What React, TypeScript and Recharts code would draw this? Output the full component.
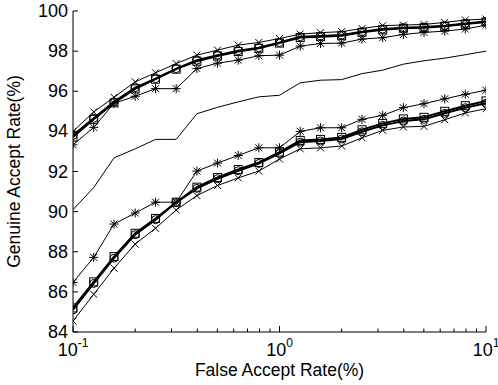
import { LineChart, Line, XAxis, YAxis } from "recharts";

// false accept rate (%) sample points, 0.1 decade apart
const far = [
  0.1, 0.126, 0.158, 0.2, 0.251, 0.316, 0.398, 0.501, 0.631, 0.794, 1, 1.26,
  1.58, 2, 2.51, 3.16, 3.98, 5.01, 6.31, 7.94, 10,
];

// upper group
const upperCross = [
  94.0, 94.97, 95.7, 96.47, 96.92, 97.38, 97.8, 98.05, 98.3, 98.43, 98.63,
  98.85, 98.92, 98.97, 99.13, 99.27, 99.3, 99.33, 99.43, 99.55, 99.6,
];
const upperCircle = [
  93.8, 94.65, 95.47, 96.18, 96.63, 97.13, 97.55, 97.8, 98.02, 98.17, 98.43,
  98.72, 98.75, 98.8, 98.97, 99.1, 99.17, 99.2, 99.27, 99.38, 99.48,
];
const upperSquare = [
  93.72, 94.6, 95.42, 96.12, 96.6, 97.1, 97.5, 97.76, 97.98, 98.14, 98.4,
  98.68, 98.72, 98.77, 98.94, 99.06, 99.14, 99.17, 99.24, 99.35, 99.45,
];
const upperStar = [
  93.33, 94.2, 95.4, 95.75, 96.13, 96.13, 97.13, 97.4, 97.55, 97.77, 97.8,
  98.25, 98.38, 98.4, 98.6, 98.67, 98.83, 98.93, 99.0, 99.1, 99.3,
];

// plain line in the middle
const plain = [
  90.1, 91.2, 92.68, 93.13, 93.6, 93.6, 94.88, 95.2, 95.47, 95.72, 95.8,
  96.42, 96.55, 96.58, 96.88, 97.05, 97.35, 97.52, 97.65, 97.82, 98.0,
];

// lower group
const lowerStar = [
  86.47, 87.72, 89.38, 89.93, 90.47, 90.47, 92.02, 92.42, 92.8, 93.18, 93.18,
  94.0, 94.18, 94.18, 94.6, 94.8, 95.18, 95.38, 95.62, 95.85, 96.05,
];
const lowerSquare = [
  85.2, 86.5, 87.76, 88.92, 89.66, 90.47, 91.22, 91.7, 92.1, 92.45, 92.97,
  93.55, 93.6, 93.7, 94.08, 94.4, 94.62, 94.7, 95.0, 95.28, 95.52,
];
const lowerCircle = [
  85.1, 86.42, 87.68, 88.85, 89.6, 90.45, 91.16, 91.64, 92.04, 92.4, 92.9,
  93.46, 93.52, 93.62, 93.98, 94.3, 94.52, 94.6, 94.9, 95.18, 95.4,
];
const lowerCross = [
  84.55, 85.88, 87.18, 88.38, 89.17, 90.08, 90.8, 91.3, 91.68, 92.02, 92.62,
  93.13, 93.18, 93.27, 93.68, 94.05, 94.22, 94.25, 94.58, 94.92, 95.13,
];

const xTicks = [
  0.1, 0.2, 0.3, 0.4, 0.5, 0.6, 0.7, 0.8, 0.9, 1, 2, 3, 4, 5, 6, 7, 8, 9, 10,
];
const xDecades = [0.1, 1, 10];
const yTicks = [84, 86, 88, 90, 92, 94, 96, 98, 100];

const data = far.map((f, i) => ({
  far: f,
  upX: upperCross[i],
  upO: upperCircle[i],
  upS: upperSquare[i],
  upA: upperStar[i],
  plain: plain[i],
  loA: lowerStar[i],
  loS: lowerSquare[i],
  loO: lowerCircle[i],
  loX: lowerCross[i],
}));

const series = [
  { key: "plain", marker: "none", width: 1 },
  { key: "upX", marker: "cross", width: 1 },
  { key: "upA", marker: "star", width: 1 },
  { key: "upS", marker: "square", width: 2 },
  { key: "upO", marker: "circle", width: 2 },
  { key: "loA", marker: "star", width: 1 },
  { key: "loX", marker: "cross", width: 1 },
  { key: "loS", marker: "square", width: 2 },
  { key: "loO", marker: "circle", width: 2 },
];

const FONT = "'Liberation Sans', Arial, Helvetica, sans-serif";
const INK = "#000";

function Marker({ cx, cy, shape }: any) {
  if (cx == null || cy == null) return <g />;
  if (shape === "circle")
    return <circle cx={cx} cy={cy} r={4} fill="none" stroke={INK} strokeWidth={1} />;
  if (shape === "square")
    return <rect x={cx - 4} y={cy - 4} width={8} height={8} fill="none" stroke={INK} strokeWidth={1} />;
  const d = 3.5;
  const diag = `M${cx - d},${cy - d}L${cx + d},${cy + d}M${cx - d},${cy + d}L${cx + d},${cy - d}`;
  if (shape === "cross") return <path d={diag} stroke={INK} strokeWidth={1} fill="none" />;
  const a = 4.5;
  const plus = `M${cx - a},${cy}L${cx + a},${cy}M${cx},${cy - a}L${cx},${cy + a}`;
  return <path d={diag + plus} stroke={INK} strokeWidth={1} fill="none" />;
}

const BottomTick = ({ x, y, payload }: any) => {
  const v = payload.value;
  const major = xDecades.includes(v);
  const exp = Math.round(Math.log10(v));
  return (
    <g>
      <line x1={x} x2={x} y1={y} y2={y - (major ? 6 : 3.5)} stroke={INK} />
      {major && (
        <text x={x} y={y + 24} textAnchor="middle" fontSize={18} fontFamily={FONT} fill={INK}>
          10
          <tspan dy={-9} fontSize={12}>
            {exp}
          </tspan>
        </text>
      )}
    </g>
  );
};

const TopTick = ({ x, y, payload }: any) => {
  const major = xDecades.includes(payload.value);
  return <line x1={x} x2={x} y1={y} y2={y + (major ? 6 : 3.5)} stroke={INK} />;
};

const LeftTick = ({ x, y, payload }: any) => (
  <g>
    <line x1={x} x2={x + 5} y1={y} y2={y} stroke={INK} />
    <text x={x - 5} y={y} textAnchor="end" dominantBaseline="central" fontSize={18} fontFamily={FONT} fill={INK}>
      {payload.value}
    </text>
  </g>
);

const RightTick = ({ x, y }: any) => <line x1={x} x2={x - 5} y1={y} y2={y} stroke={INK} />;

const XLabel = ({ viewBox }: any) => (
  <text x={viewBox.x + viewBox.width / 2} y={viewBox.y + 44} textAnchor="middle" fontSize={17.5} fontFamily={FONT} fill={INK}>
    False Accept Rate(%)
  </text>
);

const YLabel = ({ viewBox }: any) => {
  const cx = viewBox.x + 1;
  const cy = viewBox.y + viewBox.height / 2;
  return (
    <text
      x={cx}
      y={cy}
      transform={`rotate(-90, ${cx}, ${cy})`}
      textAnchor="middle"
      dominantBaseline="central"
      fontSize={17.5}
      fontFamily={FONT}
      fill={INK}
    >
      Genuine Accept Rate(%)
    </text>
  );
};

export default function App() {
  return (
    <div style={{ position: "absolute", left: 0, top: 0, background: "#fff", fontFamily: FONT }}>
      <LineChart width={498} height={385} data={data} margin={{ top: 11, right: 12, bottom: 23, left: 13 }}>
        <XAxis
          dataKey="far"
          type="number"
          scale="log"
          domain={[0.1, 10]}
          allowDataOverflow
          ticks={xTicks}
          interval={0}
          height={30}
          tickSize={0}
          tickMargin={0}
          tickLine={false}
          axisLine={{ stroke: INK }}
          tick={<BottomTick />}
          label={{ content: <XLabel /> }}
        />
        <XAxis
          xAxisId="top"
          orientation="top"
          dataKey="far"
          type="number"
          scale="log"
          domain={[0.1, 10]}
          allowDataOverflow
          ticks={xTicks}
          interval={0}
          height={0}
          tickSize={0}
          tickMargin={0}
          tickLine={false}
          axisLine={{ stroke: INK }}
          tick={<TopTick />}
        />
        <YAxis
          type="number"
          domain={[84, 100]}
          allowDataOverflow
          ticks={yTicks}
          interval={0}
          width={60}
          tickSize={0}
          tickMargin={0}
          tickLine={false}
          axisLine={{ stroke: INK }}
          tick={<LeftTick />}
          label={{ content: <YLabel /> }}
        />
        <YAxis
          yAxisId="right"
          orientation="right"
          type="number"
          domain={[84, 100]}
          allowDataOverflow
          ticks={yTicks}
          interval={0}
          width={0}
          tickSize={0}
          tickMargin={0}
          tickLine={false}
          axisLine={{ stroke: INK }}
          tick={<RightTick />}
        />
        {series.map((s) => (
          <Line
            key={s.key}
            dataKey={s.key}
            type="linear"
            stroke={INK}
            strokeWidth={s.width}
            isAnimationActive={false}
            dot={
              s.marker === "none"
                ? false
                : (p: any) => <Marker key={`${s.key}-${p.index}`} cx={p.cx} cy={p.cy} shape={s.marker} />
            }
            activeDot={false}
          />
        ))}
      </LineChart>
    </div>
  );
}
